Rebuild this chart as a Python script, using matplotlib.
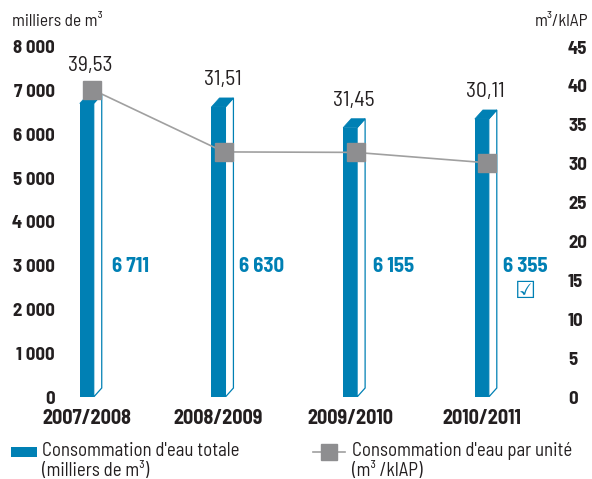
import matplotlib
matplotlib.use('Agg')
import matplotlib.pyplot as plt
from matplotlib.patches import Polygon, Rectangle
from matplotlib.lines import Line2D

# ---------------- data ----------------
categories = ['2007/2008', '2008/2009', '2009/2010', '2010/2011']
total = [6711, 6630, 6155, 6355]
total_labels = ['6 711', '6 630', '6 155', '6 355']
verified = [False, False, False, True]
per_unit = [39.53, 31.51, 31.45, 30.11]
per_unit_labels = ['39,53', '31,51', '31,45', '30,11']
left_ticks = [0, 1000, 2000, 3000, 4000, 5000, 6000, 7000, 8000]
left_tick_labels = ['0', '1 000', '2 000', '3 000', '4 000', '5 000', '6 000', '7 000', '8 000']
right_ticks = [0, 5, 10, 15, 20, 25, 30, 35, 40, 45]
right_tick_labels = [str(t) for t in right_ticks]

# ---------------- style ----------------
FONT = ['Barlow Semi Condensed', 'DejaVu Sans']
plt.rcParams['font.family'] = FONT
BLUE = '#0080b4'
GRAY = '#8e8e90'
LINE_GRAY = '#a0a0a0'
TEXT = '#231f20'

W, H = 592, 479
fig = plt.figure(figsize=(W / 100, H / 100), dpi=100)

def fx(px):
    return px / W

def fy(py):
    return 1 - py / H

ax = fig.add_axes([fx(60), fy(397), fx(560) - fx(60), fy(47) - fy(397)])
ax.set_xlim(-0.203, 3.594)
ax.set_ylim(0, 8000)
ax2 = ax.twinx()
ax2.set_ylim(0, 45)

for a in (ax, ax2):
    for s in a.spines.values():
        s.set_visible(False)

x = list(range(len(categories)))
front_w = 0.106
side_w = 0.061
depth = 9 / 350 * 8000  # 9 px

# bars: front face
ax.bar(x, total, width=front_w, color=BLUE, linewidth=0, zorder=2)
for xi, v in zip(x, total):
    x0 = xi - front_w / 2
    x1 = xi + front_w / 2
    side = Polygon([(x1, 0), (x1 + side_w, depth), (x1 + side_w, v + depth), (x1, v)],
                   closed=True, facecolor='white', edgecolor=BLUE, linewidth=0.9, zorder=2)
    ax.add_patch(side)
    top = Polygon([(x0, v), (x0 + side_w, v + depth), (x1 + side_w, v + depth), (x1, v)],
                  closed=True, facecolor=BLUE, edgecolor=BLUE, linewidth=0.5, zorder=2)
    ax.add_patch(top)

# bar value labels
for xi, lab, ok in zip(x, total_labels, verified):
    ax.text(xi + 0.33, 2980, lab, ha='center', va='center', fontsize=15,
            fontweight='bold', color=BLUE, zorder=3)
    if ok:
        ax.text(xi + 0.33, 2420, '\u2611', ha='center', va='center', fontsize=17,
                color=BLUE, family=['DejaVu Sans'], zorder=3)

# line
mx = [xi + 0.042 for xi in x]
ax2.plot(mx, per_unit, color=LINE_GRAY, linewidth=1.2, zorder=3)
ax2.plot(mx, per_unit, linestyle='none', marker='s', markersize=13,
         markerfacecolor=GRAY, markeredgecolor=GRAY, zorder=4)

# line labels placed above the higher of bar top / marker
for xi, mxi, v, pu, lab in zip(x, mx, total, per_unit, per_unit_labels):
    bar_top = ax.transData.transform((xi, v + depth))[1]
    mk = ax2.transData.transform((mxi, pu))[1]
    ypx = max(bar_top + 18, mk + 24)
    xpx = ax.transData.transform((xi + 0.03, 0))[0]
    fig.text(xpx / W, ypx / H, lab, ha='center', va='center', fontsize=15.5, color=TEXT)

# ticks
ax.set_xticks(x, categories, fontweight='bold')
ax.set_yticks(left_ticks, left_tick_labels, fontweight='bold')
ax2.set_yticks(right_ticks, right_tick_labels, fontweight='bold', ha='left')
ax.tick_params(axis='x', length=0, pad=9, labelsize=14.5, labelcolor=TEXT)
ax.tick_params(axis='y', length=0, pad=3.6, labelsize=13.5, labelcolor=TEXT)
ax2.tick_params(axis='y', length=0, pad=5.8, labelsize=13.5, labelcolor=TEXT)

# axis titles
fig.text(fx(12), fy(22), 'milliers de m\u00b3', ha='left', va='center', fontsize=12.5, color=TEXT)
fig.text(fx(588), fy(22), 'm\u00b3/klAP', ha='right', va='center', fontsize=12.5, color=TEXT)

# legend
fig.patches.append(Rectangle((fx(11), fy(457)), fx(37) - fx(11), fy(447) - fy(457),
                             transform=fig.transFigure, facecolor=BLUE, edgecolor='none'))
fig.text(fx(42), fy(451), "Consommation d'eau totale", ha='left', va='center', fontsize=13.5, color=TEXT)
fig.text(fx(42), fy(471), '(milliers de m\u00b3)', ha='left', va='center', fontsize=13.5, color=TEXT)
fig.lines.append(Line2D([fx(313), fx(345)], [fy(452), fy(452)], transform=fig.transFigure,
                        color=LINE_GRAY, linewidth=1.2))
fig.lines.append(Line2D([fx(329)], [fy(452)], transform=fig.transFigure, linestyle='none',
                        marker='s', markersize=11, markerfacecolor=GRAY, markeredgecolor=GRAY))
fig.text(fx(352), fy(451), "Consommation d'eau par unit\u00e9", ha='left', va='center', fontsize=13.5, color=TEXT)
fig.text(fx(352), fy(471), '(m\u00b3 /klAP)', ha='left', va='center', fontsize=13.5, color=TEXT)

fig.savefig('out.png', dpi=100)
